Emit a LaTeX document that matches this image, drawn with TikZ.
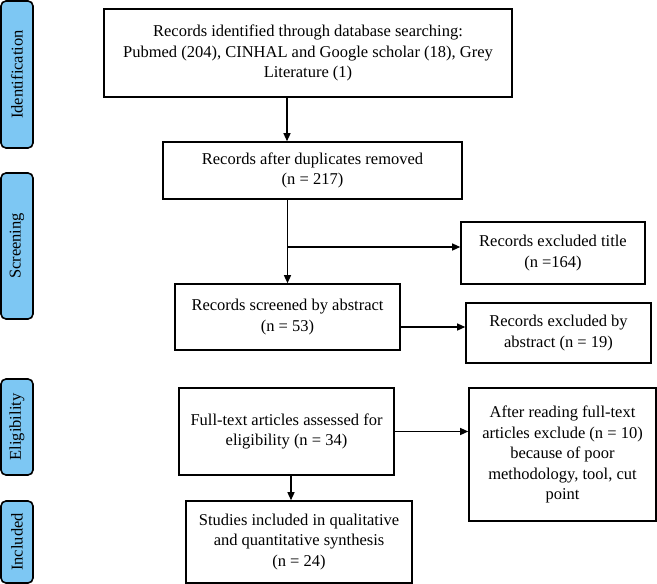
\documentclass[tikz,border=0pt]{standalone}
\usepackage{fontspec}
\setmainfont{Liberation Serif}
\usetikzlibrary{arrows.meta}
\definecolor{phase}{RGB}{125,199,243}
\tikzset{
  box/.style={draw=black, line width=1.6pt, fill=white, align=center, inner sep=2pt,
    font=\fontsize{16.5}{20.5}\selectfont},
  phasebox/.style={draw=black, line width=1.6pt, fill=phase, rounded corners=5pt,
    rotate=90, align=center, font=\fontsize{16.5}{20}\selectfont, inner sep=0pt},
  arr/.style={line width=1.3pt, -{Triangle[length=8pt,width=7pt]}},
  ln/.style={line width=1.3pt}
}
\begin{document}
\begin{tikzpicture}[x=1pt,y=-1pt]
\useasboundingbox (0,0) rectangle (657,584);
% phase labels
\node[phasebox, minimum width=147pt, minimum height=32pt] (pid) at (17,74.5) {Identification};
\node[phasebox, minimum width=146pt, minimum height=32pt] (psc) at (17,246) {Screening};
\node[phasebox, minimum width=96pt, minimum height=32pt] (pel) at (17,427) {Eligibility};
\node[phasebox, minimum width=82pt, minimum height=32pt] (pin) at (17,542) {Included};
% main boxes
\node[box, minimum width=408pt, minimum height=88pt] (b1) at (308,53)
  {Records identified through database searching:\\Pubmed (204), CINHAL and Google scholar (18), Grey\\Literature (1)};
\node[box, minimum width=299pt, minimum height=57pt] (b2) at (312.5,170.5)
  {Records after duplicates removed\\(n = 217)};
\node[box, minimum width=184pt, minimum height=62pt] (ex1) at (553,253)
  {Records excluded title\\(n =164)};
\node[box, minimum width=225pt, minimum height=66pt] (b3) at (287.5,317)
  {Records screened by abstract\\(n = 53)};
\node[box, minimum width=185pt, minimum height=60pt] (ex2) at (558.5,333)
  {Records excluded by\\abstract (n = 19)};
\node[box, minimum width=215pt, minimum height=87pt] (b4) at (286.5,431.5)
  {Full-text articles assessed for\\eligibility (n = 34)};
\node[box, minimum width=187pt, minimum height=133pt] (ex3) at (562.5,454.5)
  {After reading full-text\\articles exclude (n = 10)\\because of poor\\methodology, tool, cut\\point};
\node[box, minimum width=226pt, minimum height=82pt] (b5) at (299,542)
  {Studies included in qualitative\\and quantitative synthesis\\(n = 24)};
% connectors
\coordinate (c1) at (287,97);
\coordinate (br) at (287,247);
\coordinate (c2) at (400,327);
\coordinate (c3) at (291,475);
\draw[arr] (c1) -- (c1 |- b2.north);
\draw[arr] (b2.south -| b3.north) -- (b3.north);
\draw[arr] (br) -- (br -| ex1.west);
\draw[arr] (c2) -- (c2 -| ex2.west);
\draw[arr] (b4.east) -- (b4.east -| ex3.west);
\draw[arr] (c3) -- (c3 |- b5.north);
\end{tikzpicture}
\end{document}
